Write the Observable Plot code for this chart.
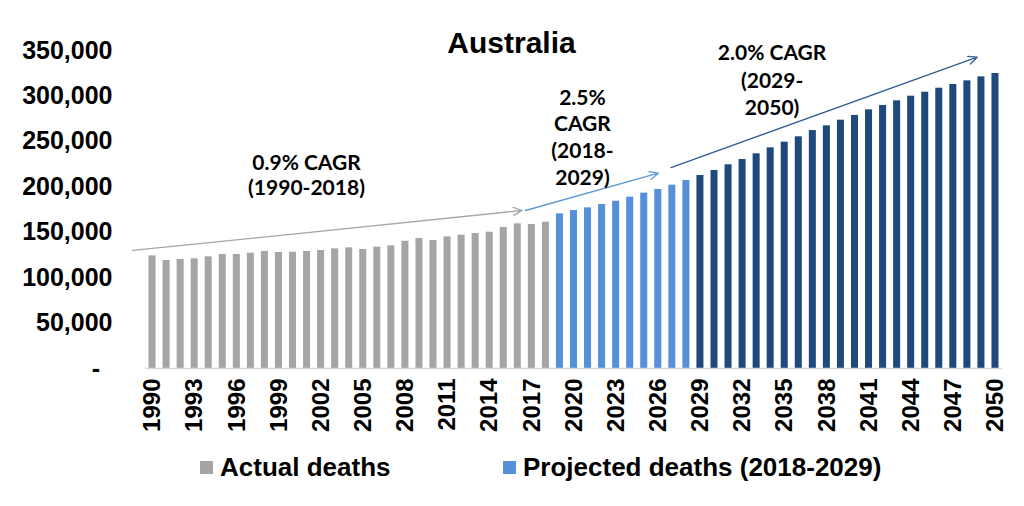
<!DOCTYPE html>
<html>
<head>
<meta charset="utf-8">
<script src="https://cdn.jsdelivr.net/npm/d3@7"></script>
<script src="https://cdn.jsdelivr.net/npm/@observablehq/plot@0.6"></script>
<style>
  html, body { margin: 0; padding: 0; background: #fff; }
  #wrap { position: relative; width: 1024px; height: 506px; overflow: hidden; font-family: "Liberation Sans", Arial, sans-serif; }
  #legend { position: absolute; left: 0; top: 440px; width: 1024px; height: 66px; }
  .sw { position: absolute; width: 13px; height: 13px; }
  .lt { position: absolute; font-size: 26px; font-weight: bold; color: #000; line-height: 30px; white-space: nowrap; }
</style>
</head>
<body>
<div id="wrap">
  <div id="chart"></div>
  <div id="legend"></div>
</div>
<script>
// ---- data ----
const years = [
  1990, 1991, 1992, 1993, 1994, 1995, 1996, 1997, 1998, 1999,
  2000, 2001, 2002, 2003, 2004, 2005, 2006, 2007, 2008, 2009,
  2010, 2011, 2012, 2013, 2014, 2015, 2016, 2017, 2018, 2019,
  2020, 2021, 2022, 2023, 2024, 2025, 2026, 2027, 2028, 2029,
  2030, 2031, 2032, 2033, 2034, 2035, 2036, 2037, 2038, 2039,
  2040, 2041, 2042, 2043, 2044, 2045, 2046, 2047, 2048, 2049,
  2050
];
const deaths = [
  124000, 118900, 120000, 120700, 122900, 125500, 125500, 126900, 128800, 127700,
  128000, 128800, 129900, 131700, 132800, 131000, 133500, 135000, 140100, 143100,
  140900, 144900, 146700, 148600, 150000, 155200, 159200, 158500, 161000, 170200,
  173900, 176800, 180500, 184100, 188600, 193000, 197000, 201800, 206900, 212400,
  217900, 224200, 230000, 236300, 242900, 249100, 255000, 261900, 267100, 273300,
  278500, 284700, 289500, 294600, 299700, 304100, 308500, 312600, 316600, 321000,
  324700
];
const segmentNames = ["Actual deaths", "Projected deaths (2018-2029)", "Projected deaths (2029-2050)"];
const segmentColors = ["#a5a5a5", "#5590d8", "#1f497d"];
const lastActualYear = 2018;
const lastShortProjYear = 2028;
const yTicks = [0, 50000, 100000, 150000, 200000, 250000, 300000, 350000];
const xTickYears = [1990, 1993, 1996, 1999, 2002, 2005, 2008, 2011, 2014, 2017, 2020, 2023, 2026, 2029, 2032, 2035, 2038, 2041, 2044, 2047, 2050];
const cagrLabels = ["0.9% CAGR\n(1990-2018)", "2.5%\nCAGR\n(2018-\n2029)", "2.0% CAGR\n(2029-\n2050)"];
const title = "Australia";

const table = years.map((year, i) => ({
  year,
  deaths: deaths[i],
  segment: year <= lastActualYear ? segmentNames[0] : year <= lastShortProjYear ? segmentNames[1] : segmentNames[2]
}));

const fmt = d3.format(",");
const annFont = "Lato, 'Open Sans', sans-serif";
const annWeight = "bold";
const annSize = 21;

const chart = Plot.plot({
  width: 1024,
  height: 440,
  marginLeft: 145,
  marginRight: 22,
  marginTop: 50,
  marginBottom: 72,
  style: { fontFamily: "'Liberation Sans', Arial, sans-serif", color: "#000", background: "#fff" },
  x: { type: "linear", domain: [1989.5, 2050.5] },
  y: { domain: [0, 350000] },
  color: { domain: segmentNames, range: segmentColors },
  marks: [
    Plot.rectY(table, {
      x1: d => d.year - 0.25,
      x2: d => d.year + 0.25,
      y: "deaths",
      fill: "segment"
    }),
    Plot.ruleY([0], { stroke: "#d9d9d9", strokeWidth: 1.5 }),
    Plot.axisY({
      ticks: yTicks,
      tickFormat: d => d === 0 ? "-\u2002" : fmt(d),
      tickSize: 0,
      tickPadding: 33,
      fontSize: 25,
      fontWeight: "bold",
      label: null
    }),
    Plot.axisX({
      ticks: xTickYears,
      tickFormat: d => String(d),
      tickRotate: -90,
      tickSize: 0,
      tickPadding: 10,
      fontSize: 24,
      fontWeight: "bold",
      label: null
    }),
    // CAGR arrows
    Plot.arrow([{x1: 1988.6, y1: 129900, x2: 2016.3, y2: 173900}], {
      x1: "x1", y1: "y1", x2: "x2", y2: "y2", stroke: "#a6a6a6", strokeWidth: 1.3, headLength: 11, headAngle: 50
    }),
    Plot.arrow([{x1: 2016.55, y1: 173900, x2: 2026.0, y2: 215000}], {
      x1: "x1", y1: "y1", x2: "x2", y2: "y2", stroke: "#5b9bd5", strokeWidth: 1.3, headLength: 11, headAngle: 50
    }),
    Plot.arrow([{x1: 2026.9, y1: 221200, x2: 2048.7, y2: 342600}], {
      x1: "x1", y1: "y1", x2: "x2", y2: "y2", stroke: "#2f5f94", strokeWidth: 1.3, headLength: 11, headAngle: 50
    }),
    // CAGR labels
    Plot.text([cagrLabels[0]], { x: 2000.96, y: 238100, text: d => d, lineAnchor: "top", lineHeight: 1.2, fontSize: annSize, fontWeight: annWeight, fontFamily: annFont, fill: "#000" }),
    Plot.text([cagrLabels[1]], { x: 2020.6, y: 311500, text: d => d, lineAnchor: "top", lineHeight: 1.28, fontSize: annSize, fontWeight: annWeight, fontFamily: annFont, fill: "#000" }),
    Plot.text([cagrLabels[2]], { x: 2034.1, y: 361000, text: d => d, lineAnchor: "top", lineHeight: 1.31, fontSize: annSize, fontWeight: annWeight, fontFamily: annFont, fill: "#000" }),
    // title
    Plot.text([title], { x: 2015.55, y: 370200, text: d => d, lineAnchor: "top", fontSize: 30, fontWeight: "bold", fill: "#000" })
  ]
});
document.getElementById("chart").appendChild(chart);

// legend (first two series, as in the original)
const legend = document.getElementById("legend");
const legendPos = [{sw: 200, tx: 220}, {sw: 503, tx: 523}];
legendPos.forEach((p, i) => {
  const sw = document.createElement("div");
  sw.className = "sw";
  sw.style.left = p.sw + "px";
  sw.style.top = "21px";
  sw.style.background = segmentColors[i];
  legend.appendChild(sw);
  const t = document.createElement("div");
  t.className = "lt";
  t.style.left = p.tx + "px";
  t.style.top = "12px";
  t.textContent = segmentNames[i];
  legend.appendChild(t);
});
</script>
</body>
</html>
